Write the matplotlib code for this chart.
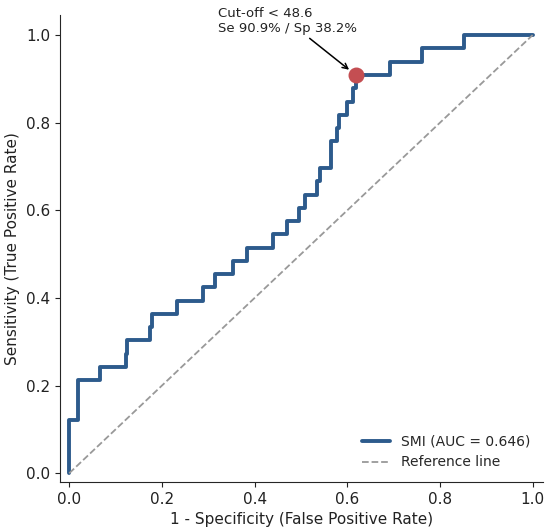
import matplotlib
matplotlib.use("Agg")
import matplotlib.pyplot as plt
import seaborn as sns

# ROC corners
fpr = [0.0, 0.0, 0.020, 0.020, 0.067, 0.067, 0.122, 0.122, 0.125, 0.125,
       0.175, 0.175, 0.178, 0.178, 0.233, 0.233, 0.288, 0.288, 0.315, 0.315,
       0.354, 0.354, 0.384, 0.384, 0.440, 0.440, 0.470, 0.470, 0.495, 0.495,
       0.508, 0.508, 0.535, 0.535, 0.542, 0.542, 0.564, 0.564, 0.577, 0.577,
       0.582, 0.582, 0.600, 0.600, 0.612, 0.612, 0.618, 0.618, 0.693, 0.693,
       0.762, 0.762, 0.852, 0.852, 1.0]
tpr = [0.0, 0.121, 0.121, 0.212, 0.212, 0.242, 0.242, 0.273, 0.273, 0.303,
       0.303, 0.333, 0.333, 0.364, 0.364, 0.394, 0.394, 0.424, 0.424, 0.455,
       0.455, 0.485, 0.485, 0.515, 0.515, 0.545, 0.545, 0.576, 0.576, 0.606,
       0.606, 0.636, 0.636, 0.667, 0.667, 0.697, 0.697, 0.758, 0.758, 0.788,
       0.788, 0.818, 0.818, 0.848, 0.848, 0.879, 0.879, 0.909, 0.909, 0.939,
       0.939, 0.970, 0.970, 1.0, 1.0]
auc = 0.646

cut_fpr = 0.618
cut_tpr = 0.909
cut_label = "Cut-off < 48.6\nSe 90.9% / Sp 38.2%"

sns.set_style("ticks")
plt.rcParams['font.family'] = ['DejaVu Sans']

fig = plt.figure(figsize=(5.5, 5.32), dpi=100)
ax = fig.add_axes([0.109, 0.094, 0.878, 0.878])

ax.plot(fpr, tpr, color="#2d5b8c", lw=2.8, label="SMI (AUC = %.3f)" % auc)
ax.plot([0, 1], [0, 1], ls="--", color="#999999", lw=1.3, label="Reference line")
ax.scatter([cut_fpr], [cut_tpr], s=110, color="#c44e52", zorder=5)
ax.annotate(cut_label, xy=(cut_fpr, cut_tpr), xytext=(0.322, 1.0),
            fontsize=9.5, va="bottom", ha="left", color="#222222",
            arrowprops=dict(arrowstyle="->", color="black", lw=1.1,
                            shrinkA=0, shrinkB=6))

ax.set_xlim(-0.02, 1.022)
ax.set_ylim(-0.02, 1.046)
ax.set_xticks([0, 0.2, 0.4, 0.6, 0.8, 1.0])
ax.set_yticks([0, 0.2, 0.4, 0.6, 0.8, 1.0])
ax.tick_params(labelsize=11, colors="#222222")
ax.set_xlabel("1 - Specificity (False Positive Rate)", fontsize=11, color="#222222")
ax.set_ylabel("Sensitivity (True Positive Rate)", fontsize=11, color="#222222")
ax.legend(loc="lower right", frameon=False, fontsize=10)
sns.despine(ax=ax)

fig.savefig("out.png", dpi=100)
